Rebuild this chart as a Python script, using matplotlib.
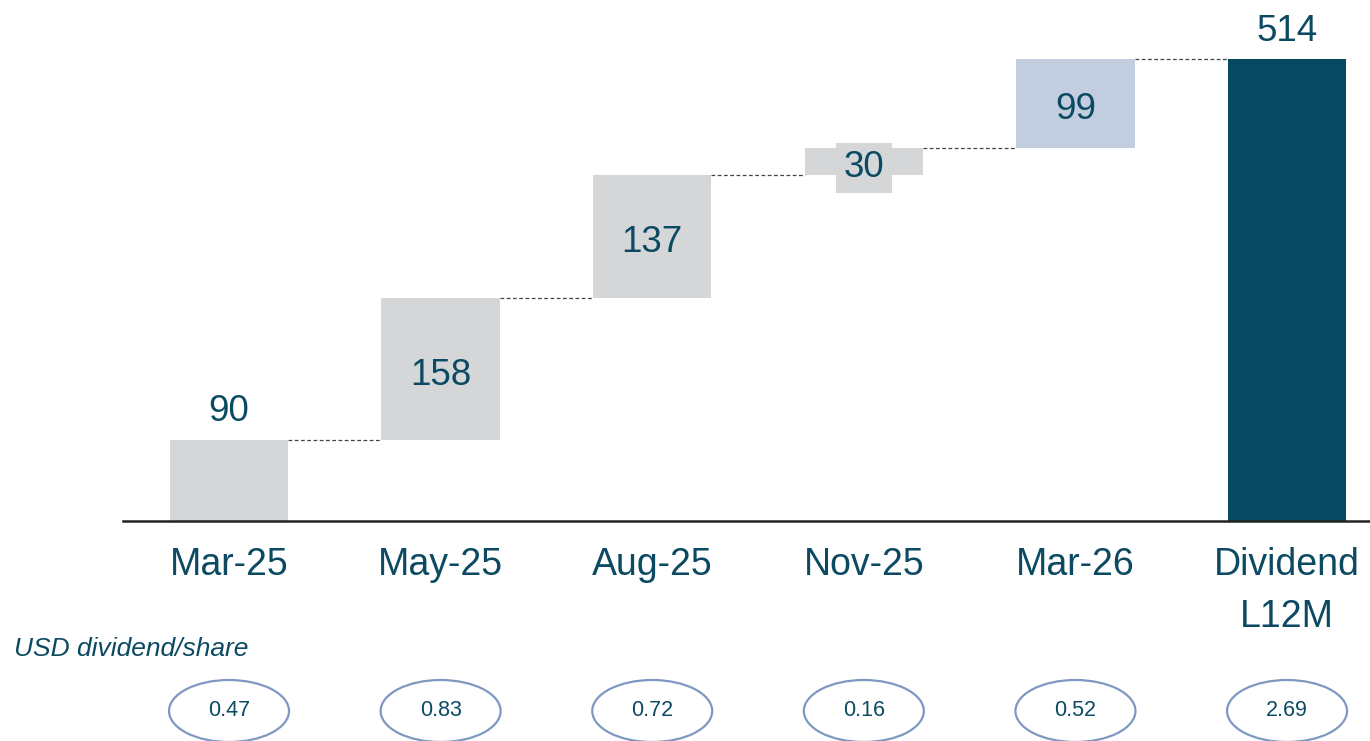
import matplotlib
matplotlib.use("Agg")
import matplotlib.pyplot as plt
from matplotlib.patches import Ellipse
from matplotlib.transforms import blended_transform_factory

plt.rcParams['font.family'] = ['Liberation Sans', 'DejaVu Sans']

categories = ["Mar-25", "May-25", "Aug-25", "Nov-25", "Mar-26", "Dividend\nL12M"]
increments = [90, 158, 137, 30, 99]
total = 514
per_share = ["0.47", "0.83", "0.72", "0.16", "0.52", "2.69"]

text_color = "#0B4A62"
gray = "#D5D6D8"
light_blue = "#C2CEE0"
dark = "#064A62"
ell_color = "#7F98C2"

fig = plt.figure(figsize=(13.7, 7.41), dpi=100)
ax = fig.add_axes([123/1370, 220/741, 1247/1370, 521/741])
ax.set_xlim(-0.501, 5.392)
ax.set_ylim(0, 521/0.8988)

width = 0.56
bottoms = []
cum = 0
for v in increments:
    bottoms.append(cum)
    cum += v

colors = [gray, gray, gray, gray, light_blue]
for i, (v, b) in enumerate(zip(increments, bottoms)):
    ax.bar(i, v, bottom=b, width=width, color=colors[i], edgecolor='none', zorder=2)
ax.bar(5, total, width=width, color=dark, edgecolor='none', zorder=2)

# connectors
levels = [b + v for v, b in zip(increments, bottoms)]
for i, lvl in enumerate(levels):
    ax.plot([i + width/2, i + 1 - width/2], [lvl, lvl], ls=(0, (3, 2)), color="#444444",
            lw=0.9, zorder=1)

# value labels
vfs = 26.5
ax.annotate(str(increments[0]), (0, increments[0]), xytext=(0, 8), textcoords='offset points',
            ha='center', va='bottom', fontsize=vfs, color=text_color)
for i in range(1, 5):
    v, b = increments[i], bottoms[i]
    kw = {}
    if i == 3:
        kw['bbox'] = dict(boxstyle='square,pad=0.2', fc=gray, ec='none')
    ax.annotate(str(v), (i, b + v/2), xytext=(0, -4.5), textcoords='offset points',
                ha='center', va='center', fontsize=vfs, color=text_color, zorder=3, **kw)
ax.annotate(str(total), (5, total), xytext=(0, 7), textcoords='offset points',
            ha='center', va='bottom', fontsize=vfs, color=text_color)

# axis
for s in ['top', 'right', 'left']:
    ax.spines[s].set_visible(False)
ax.spines['bottom'].set_linewidth(1.8)
ax.spines['bottom'].set_color('#222222')
ax.set_yticks([])
ax.set_xticks(range(6))
ax.set_xticklabels(categories, fontsize=27, color=text_color, linespacing=1.55)
ax.tick_params(axis='x', length=0, pad=19)

fig.text(14/1370, 1 - 649/741, "USD dividend/share", fontsize=19, style='italic',
         color=text_color, ha='left', va='center')

tr = blended_transform_factory(ax.transData, fig.transFigure)
ey = 1 - 711/741
for i, s in enumerate(per_share):
    e = Ellipse((i, ey), width=120/211.6, height=62/741, transform=tr, fill=False,
                edgecolor=ell_color, lw=1.6, clip_on=False)
    fig.add_artist(e)
    ax.text(i, ey, s, transform=tr, ha='center', va='center', fontsize=15.5,
            color=text_color, clip_on=False)

fig.savefig("out.png", dpi=100)
